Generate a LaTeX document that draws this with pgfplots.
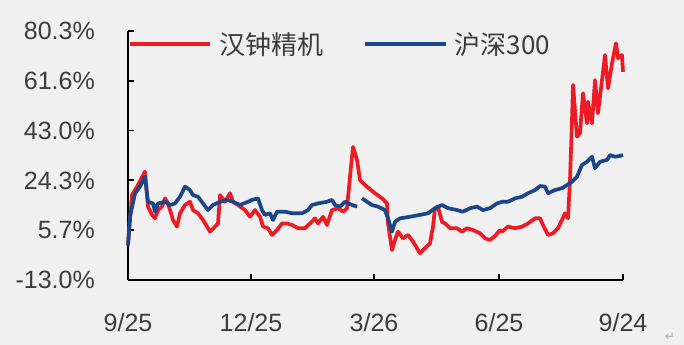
\documentclass[border=0pt]{standalone}
\usepackage{fontspec}
\setmainfont{Liberation Sans}
\newfontfamily\cjk{Noto Sans CJK SC}
\newfontfamily\dejavu{DejaVu Sans}
\usepackage{pgfplots}
\pgfplotsset{compat=1.18}
\definecolor{bg}{RGB}{240,240,240}
\definecolor{hzred}{RGB}{237,27,36}
\definecolor{hsblue}{RGB}{28,70,138}
\definecolor{txt}{RGB}{60,60,60}
\begin{document}
\begin{tikzpicture}
\fill[bg] (0bp,0bp) rectangle (684bp,345bp);
\begin{axis}[
  at={(128bp,65bp)}, anchor=south west,
  scale only axis, width=495bp, height=249bp,
  xmin=0, xmax=495, ymin=-13, ymax=80.3,
  axis x line*=bottom, axis y line*=left,
  axis line style={line width=1.8bp, black, -},
  tick align=inside, major tick length=6bp,
  tick style={line width=1.8bp, black},
  xtick={0,123,246,371,495},
  xticklabels={9/25,12/25,3/26,6/25,9/24},
  ytick={-13,5.66,24.32,42.98,61.64,80.3},
  yticklabels={-13.0\%,5.7\%,24.3\%,43.0\%,61.6\%,80.3\%},
  tick label style={font=\fontsize{25bp}{28bp}\selectfont, text=txt},
  yticklabel style={anchor=east, inner sep=0pt, xshift=-33bp},
  xticklabel style={anchor=north, inner sep=0pt, yshift=-33bp},
  unbounded coords=jump,
  clip=false,
  legend columns=2,
  legend style={at={(axis description cs:0,0.948)}, anchor=west, draw=none, fill=none,
    inner sep=0pt, font=\cjk\fontsize{26bp}{30bp}\selectfont, text=txt,
    nodes={inner sep=0pt},
    /tikz/every odd column/.append style={column sep=7bp},
    /tikz/every even column/.append style={column sep=40bp}},
  legend image code/.code={\draw[#1, line width=4.2bp, line cap=butt] (0bp,0bp) -- (80bp,0bp);},
]
\addplot[hzred, line width=3.7bp, line join=round] coordinates {
(0,0) (4,18.8) (10,22.6) (17,27.6) (20,14.5) (24,11.4) (27,10.1) (30,13.2) (34,14.5) (37,17.6)
(40,15.7) (45,9.5) (49,7.0) (52,12.0) (57,15.1) (62,16.3) (65,13.2) (70,12.0) (75,9.5) (79,7.0)
(82,5.1) (87,7.0) (90,8.2) (92,18.8) (97,16.3) (102,19.5) (105,16.3) (110,15.1) (117,13.2) (122,10.7)
(127,13.2) (132,10.7) (135,7.0) (140,6.4) (144,3.9) (149,5.7) (154,8.2) (159,8.2) (164,7.6) (170,6.4)
(177,6.4) (182,8.2) (187,10.1) (190,8.2) (195,10.7) (199,7.6) (204,13.2) (210,13.9) (215,12.6) (219,13.9)
(222,25.7) (225,36.9) (229,32.0) (232,24.5) (237,22.6) (242,21.0) (247,19.5) (254,17.6) (259,15.7) (260,8.2)
(264,-1.8) (267,2.0) (270,5.1) (275,2.6) (280,3.9) (285,1.4) (289,-1.1) (292,-3.0) (297,-1.1) (302,0.7)
(305,7.0) (307,13.9) (310,14.5) (314,8.8) (317,8.2) (322,6.4) (329,6.4) (334,5.1) (339,6.4) (345,5.7)
(352,4.5) (357,2.6) (362,2.0) (367,3.5) (372,5.7) (374,5.1) (380,7.0) (387,6.4) (394,7.0) (400,8.2)
(407,10.1) (412,10.1) (415,7.6) (420,3.9) (425,4.5) (430,6.4) (434,9.5) (437,12.0) (440,10.1) (442,24.5)
(444,47.0) (445,60.1) (449,40.7) (452,42.0) (455,57.0) (459,45.7) (460,53.8) (464,45.7) (467,61.9) (470,49.5)
(474,61.9) (477,71.3) (480,58.8) (484,68.2) (488,75.7) (490,70.1) (494,71.3) (495,65.0)
};
\addlegendentry{汉钟精机}
\addplot[hsblue, line width=3.7bp, line join=round] coordinates {
(0,0) (2,10.7) (7,19.5) (12,22.0) (17,25.7) (20,16.3) (25,15.7) (27,12.6) (30,15.7) (37,16.3)
(42,15.1) (47,15.7) (52,18.2) (57,22.0) (62,20.7) (65,18.8) (70,18.2) (75,15.7) (80,13.2) (85,15.1)
(92,16.3) (99,17.0) (105,16.3) (112,15.1) (120,16.3) (124,17.0) (130,17.6) (134,13.2) (137,11.4) (142,12.0)
(145,9.5) (149,12.6) (157,12.6) (164,12.0) (174,12.0) (180,13.2) (184,15.1) (190,15.7) (199,16.3) (204,17.0)
(207,15.1) (212,14.5) (217,16.3) (224,15.1) (229,14.5) (231,nan) (234,17.6) (239,16.3) (244,15.1) (250,14.5)
(257,13.2) (260,10.1) (264,5.1) (267,8.8) (272,10.1) (282,10.7) (292,11.4) (300,12.0) (307,13.9) (314,15.1)
(320,13.9) (329,13.2) (335,12.6) (342,13.9) (349,14.5) (355,13.2) (362,13.9) (369,15.7) (374,16.3) (380,16.3)
(387,17.6) (394,18.2) (400,19.5) (407,20.7) (412,22.2) (417,22.0) (420,19.5) (427,20.7) (434,21.4) (439,22.6)
(444,23.8) (449,25.7) (454,30.1) (459,31.3) (464,33.2) (467,28.9) (472,31.3) (479,32.0) (482,33.8) (487,33.2)
(492,33.5) (495,33.8)
};
\addlegendentry{沪深300}
\end{axis}
\node[text=black!35, font=\dejavu\fontsize{12bp}{14bp}\selectfont] at (670bp,8bp) {↵};
\end{tikzpicture}
\end{document}
